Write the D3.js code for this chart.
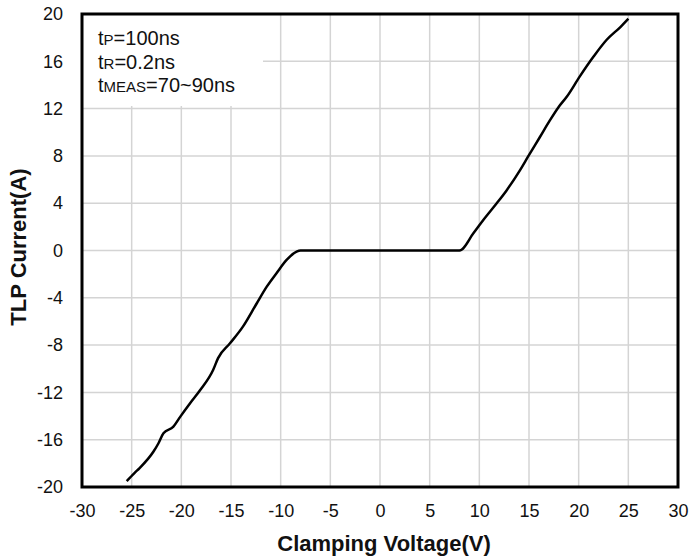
<!DOCTYPE html>
<html><head><meta charset="utf-8">
<script src="https://cdn.jsdelivr.net/npm/d3@7"></script>
<style>body{margin:0;background:#fff}svg{display:block}</style>
</head><body>
<svg id="c" width="689" height="559"></svg>
<script>
const xTicks = [-30,-25,-20,-15,-10,-5,0,5,10,15,20,25,30];
const yTicks = [-20,-16,-12,-8,-4,0,4,8,12,16,20];
const negVoltage = [-25.5,-24.7,-24.2,-22.8,-22.3,-21.8,-20.8,-20.1,-19.1,-18.1,-16.8,-16.3,-15.1,-13.8,-12.4,-11.4,-10.4,-9.4,-8.4,-8.0];
const negCurrent = [-19.5,-18.8,-18.4,-17.0,-16.3,-15.45,-14.9,-14.05,-12.9,-11.8,-10.1,-9.1,-7.85,-6.44,-4.46,-3.06,-1.9,-0.8,-0.1,0];
const posVoltage = [8.0,9.4,10.4,11.75,12.76,14.1,14.9,16.1,17.1,17.95,18.8,20.1,21.5,22.8,24.2,25.0];
const posCurrent = [0,1.45,2.58,3.99,5.1,6.8,7.93,9.6,11.0,12.1,13.0,14.7,16.4,17.8,18.9,19.6];
const xLabel = "Clamping Voltage(V)";
const yLabel = "TLP Current(A)";

const svg = d3.select("#c");
const L=82, R=678, T=14, B=487;
const x = d3.scaleLinear().domain([-30,30]).range([L,R]);
const y = d3.scaleLinear().domain([-20,20]).range([B,T]);
const font = "'Liberation Sans', Arial, sans-serif";
const fmt = d => String(d).replace("\u2212","-");

// grid
svg.append("g").selectAll("line").data(xTicks.slice(1,-1)).join("line")
  .attr("x1",d=>x(d)).attr("x2",d=>x(d)).attr("y1",T).attr("y2",B)
  .attr("stroke","#d4d4d4").attr("stroke-width",1.5);
svg.append("g").selectAll("line").data(yTicks.slice(1,-1)).join("line")
  .attr("y1",d=>y(d)).attr("y2",d=>y(d)).attr("x1",L).attr("x2",R)
  .attr("stroke","#d4d4d4").attr("stroke-width",1.5);

// annotation background
svg.append("rect").attr("x",L).attr("y",T).attr("width",181).attr("height",92).attr("fill","#fff");

// data
const line = d3.line().x(d=>x(d[0])).y(d=>y(d[1])).curve(d3.curveMonotoneX);
const pts = negVoltage.map((v,i)=>[v,negCurrent[i]]).concat(posVoltage.map((v,i)=>[v,posCurrent[i]]));
svg.append("path").datum(pts).attr("d",line).attr("fill","none")
  .attr("stroke","#000").attr("stroke-width",2.5).attr("stroke-linejoin","round");

// frame
svg.append("rect").attr("x",L).attr("y",T).attr("width",R-L).attr("height",B-T)
  .attr("fill","none").attr("stroke","#000").attr("stroke-width",3);

// axes (labels only)
const xa = svg.append("g").attr("transform",`translate(0,${B})`)
  .call(d3.axisBottom(x).tickValues(xTicks).tickFormat(fmt).tickSize(0).tickPadding(17));
xa.select(".domain").remove();
xa.selectAll("text").attr("font-family",font).attr("font-size",18).attr("fill","#111");
const ya = svg.append("g").attr("transform",`translate(${L},0)`)
  .call(d3.axisLeft(y).tickValues(yTicks).tickFormat(fmt).tickSize(0).tickPadding(19));
ya.select(".domain").remove();
ya.selectAll("text").attr("font-family",font).attr("font-size",18).attr("fill","#111");

// titles
svg.append("text").attr("x",384).attr("y",551).attr("text-anchor","middle")
  .attr("font-family",font).attr("font-size",22).attr("font-weight","bold").attr("fill","#111").text(xLabel);
svg.append("text").attr("transform","translate(26,247) rotate(-90)").attr("text-anchor","middle")
  .attr("font-family",font).attr("font-size",22).attr("font-weight","bold").attr("fill","#111").text(yLabel);

// annotation
const ann = [["P","=100ns"],["R","=0.2ns"],["MEAS","=70~90ns"]];
ann.forEach((a,i)=>{
  const t = svg.append("text").attr("x",98).attr("y",45+i*23.5)
    .attr("font-family",font).attr("font-size",20).attr("fill","#111");
  t.append("tspan").text("t");
  t.append("tspan").attr("font-size",15).text(a[0]);
  t.append("tspan").text(a[1]);
});
</script>
</body></html>
